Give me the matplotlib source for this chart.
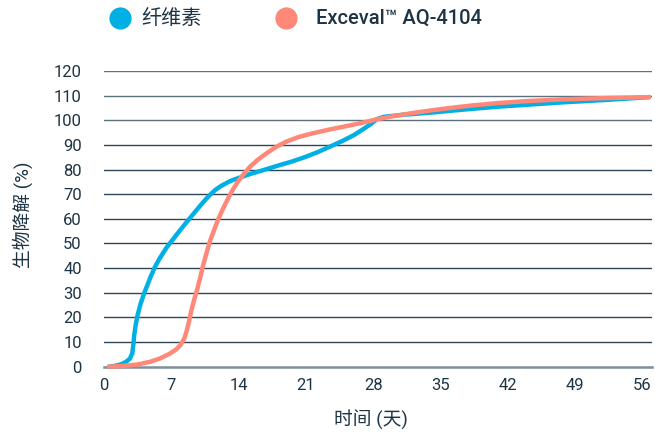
import matplotlib
matplotlib.use("Agg")
import matplotlib.pyplot as plt
from matplotlib.lines import Line2D

# ---- data ----
cellulose_days = [0.5, 1.2, 1.8, 2.3, 2.7, 2.95, 3.05, 3.15, 3.3, 3.5, 3.8, 4.2, 4.8, 5.3,
                  5.8, 6.5, 7.2, 7.9, 8.6, 9.3, 10.0, 10.6, 11.1, 11.6, 12.2, 13.1, 14.0,
                  15.2, 16.6, 18.0, 19.5, 21.0, 22.3, 23.5, 24.8, 26.0, 27.0, 27.8, 28.4,
                  29.1, 31.0, 34.0, 37.0, 40.9, 44.0, 47.8, 52.0, 56.7]
cellulose_vals = [0, 0.4, 1.0, 2.0, 3.3, 5.5, 9.0, 13.0, 17.0, 21.0, 25.5, 30.0, 36.0, 40.5,
                  44.0, 48.3, 51.8, 55.3, 58.7, 62.0, 65.3, 68.0, 70.0, 71.8, 73.4, 75.3, 76.6,
                  78.2, 79.8, 81.5, 83.2, 85.2, 87.2, 89.3, 91.6, 94.0, 96.5, 98.6, 100.5,
                  101.4, 102.2, 103.1, 104.2, 105.5, 106.3, 107.3, 108.2, 109.4]

exceval_days = [0.5, 2.0, 3.5, 4.8, 5.8, 6.8, 7.5, 8.0, 8.35, 8.6, 8.85, 9.1, 9.4, 9.7,
                10.0, 10.3, 10.65, 11.0, 11.45, 11.9, 12.4, 13.0, 13.5, 14.0, 14.6, 15.2,
                16.0, 16.9, 17.9, 19.0, 20.3, 21.8, 23.5, 25.3, 27.0, 28.5, 30.0, 32.0,
                34.0, 36.0, 38.0, 41.0, 44.0, 47.8, 52.0, 56.7]
exceval_vals = [0, 0.3, 0.9, 2.0, 3.3, 5.2, 7.0, 9.0, 11.5, 14.5, 18.5, 23.0, 27.5, 31.5,
                36.0, 41.0, 46.0, 50.7, 55.5, 60.0, 64.3, 69.0, 72.5, 75.5, 78.5, 81.2,
                84.0, 86.6, 89.2, 91.4, 93.3, 94.8, 96.3, 97.7, 99.1, 100.5, 101.6, 102.9,
                104.0, 105.0, 105.9, 107.0, 107.8, 108.5, 109.0, 109.4]

series_names = ["纤维素", "Exceval™ AQ-4104"]
x_ticks = [0, 7, 14, 21, 28, 35, 42, 49, 56]
y_ticks = [0, 10, 20, 30, 40, 50, 60, 70, 80, 90, 100, 110, 120]
x_label = "时间 (天)"
y_label = "生物降解 (%)"

BLUE = "#00b0e4"
ORANGE = "#ff8878"
TEXT = "#1d3445"
GRID = "#2e4656"
AXIS = "#7f8f99"

plt.rcParams["font.family"] = ["Roboto", "Noto Sans CJK SC", "DejaVu Sans"]

W, H = 655, 432
fig = plt.figure(figsize=(W / 100, H / 100), dpi=100)
ax = fig.add_axes([104 / W, 1 - 366.7 / H, (652 - 104) / W, (366.7 - 71) / H])

ax.set_xlim(0, 57)
ax.set_ylim(0, 120)

# grid lines
for v in y_ticks[1:]:
    ax.axhline(v, color=GRID if v < 100 else "#5d717d", lw=1.0, zorder=1)
for s in ["top", "right", "left"]:
    ax.spines[s].set_visible(False)
ax.spines["bottom"].set_color(AXIS)
ax.spines["bottom"].set_linewidth(1.8)
ax.spines["bottom"].set_zorder(1)

ax.plot(cellulose_days, cellulose_vals, color=BLUE, lw=3.2, solid_capstyle="round",
        solid_joinstyle="round", zorder=3, clip_on=False)
ax.plot(exceval_days, exceval_vals, color=ORANGE, lw=3.2, solid_capstyle="round",
        solid_joinstyle="round", zorder=4, clip_on=False)

ax.set_xticks(x_ticks)
ax.set_yticks(y_ticks)
ax.tick_params(axis="both", length=0, labelsize=12, colors=TEXT)
ax.tick_params(axis="y", pad=16)
ax.tick_params(axis="x", pad=8)

fig.text(371 / W, 1 - 420 / H, x_label, ha="center", va="center", fontsize=13.5, color=TEXT)
fig.text(23 / W, 1 - 215 / H, y_label, ha="center", va="center", fontsize=13.5,
         color=TEXT, rotation=90)

# legend
for cx, col, tx, name in [(120, BLUE, 141, series_names[0]), (286, ORANGE, 316, series_names[1])]:
    fig.add_artist(Line2D([cx / W], [1 - 18 / H], transform=fig.transFigure, marker="o",
                          markersize=16, color=col, markeredgewidth=0, linestyle="none"))
    fig.text(tx / W, 1 - 18 / H, name, ha="left", va="center", fontsize=14.5,
             color=TEXT, fontweight="medium")

fig.savefig("out.png", dpi=100)
